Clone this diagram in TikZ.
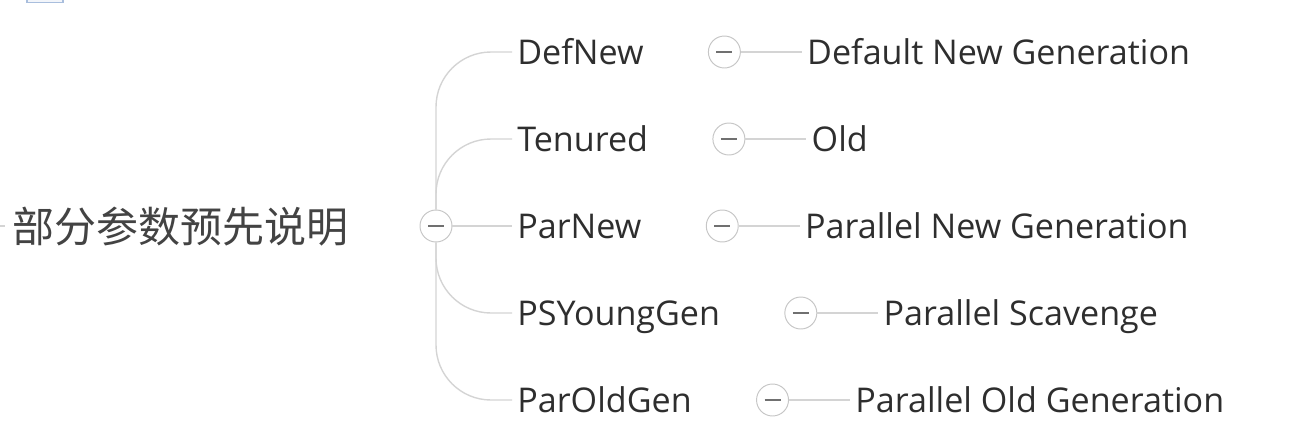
\documentclass[tikz,border=0pt]{standalone}
\usepackage{fontspec}
\setmainfont{Open Sans}
\newfontfamily\cjk{Noto Sans CJK SC}
\usetikzlibrary{positioning}
\definecolor{txt}{HTML}{2E2E2E}
\definecolor{ln}{HTML}{D4D4D4}
\definecolor{rim}{HTML}{C6C6C6}
\definecolor{bar}{HTML}{707070}
\definecolor{tab}{HTML}{A9BEDD}
\tikzset{
  item/.style={anchor=west,inner xsep=.1cm,inner ysep=0,text height=.49cm,text depth=0pt,
    text=txt,font=\fontsize{19.4}{22}\selectfont},
  knob/.style={circle,draw=rim,line width=.55pt,fill=white,minimum size=.64cm,inner sep=0,
    path picture={\draw[bar,line width=1.2pt] (path picture bounding box.center) +(-.16,0) -- +(.16,0);}},
  wire/.style={ln,line width=.8pt},
  curvewire/.style={wire,rounded corners=1.1cm},
}

\begin{document}
\begin{tikzpicture}
\useasboundingbox (0,0) rectangle (25.9,-8.8);
\draw[tab,line width=.8pt,fill=tab!15] (.54,.3) rectangle (1.26,-.05);

\node (top) [anchor=west,inner xsep=.14cm,inner ysep=0,text height=.64cm,text depth=0pt,
  text=txt!90,font=\cjk\fontsize{23.9}{26}\selectfont] at (.1,-4.52) {部分参数预先说明};
\coordinate (lft) at (0,-4.52);
\draw[wire] (lft) -- (top);
\node (hub) [knob] at (8.72,-4.52) {};

\node (dn) [item] at (10.24,-1.04) {DefNew};
\node (tn) [item] at (10.24,-2.78) {Tenured};
\node (pn) [item] at (10.24,-4.52) {ParNew};
\node (py) [item] at (10.24,-6.26) {PSYoungGen};
\node (po) [item] at (10.24,-8.00) {ParOldGen};

\node (dnk) [knob,right=1.18cm of dn] {};
\node (tnk) [knob,right=1.18cm of tn] {};
\node (pnk) [knob,right=1.18cm of pn] {};
\node (pyk) [knob,right=1.18cm of py] {};
\node (pok) [knob,right=1.18cm of po] {};

\node (dnt) [item,right=1.22cm of dnk] {Default New Generation};
\node (tnt) [item,right=1.22cm of tnk] {Old};
\node (pnt) [item,right=1.22cm of pnk] {Parallel New Generation};
\node (pyt) [item,right=1.22cm of pyk] {Parallel Scavenge};
\node (pot) [item,right=1.22cm of pok] {Parallel Old Generation};

\draw[curvewire] (hub.north) |- (dn.west);
\draw[curvewire] (hub.north) |- (tn.west);
\draw[wire] (hub) -- (pn);
\draw[curvewire] (hub.south) |- (py.west);
\draw[curvewire] (hub.south) |- (po.west);

\draw[wire] (dnk) -- (dnt);
\draw[wire] (tnk) -- (tnt);
\draw[wire] (pnk) -- (pnt);
\draw[wire] (pyk) -- (pyt);
\draw[wire] (pok) -- (pot);

\end{tikzpicture}
\end{document}
